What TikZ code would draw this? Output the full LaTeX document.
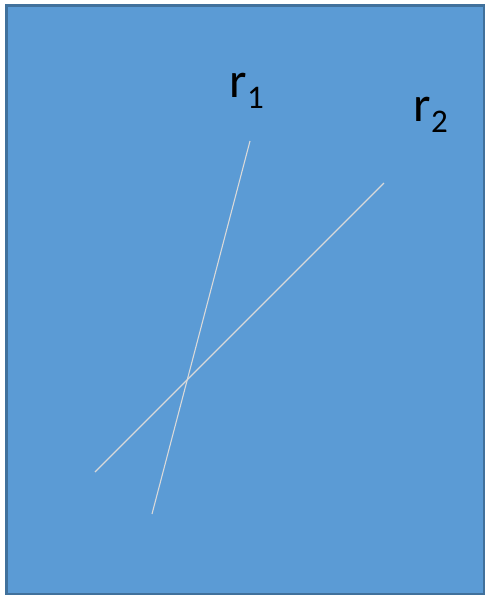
\documentclass[tikz,border=0pt]{standalone}
\usepackage{fontspec}
\setmainfont{Carlito}
\usepackage{xcolor}
\usetikzlibrary{positioning}
\definecolor{slideblue}{HTML}{5B9BD5}
\definecolor{slideedge}{HTML}{41719C}
\definecolor{raycol}{HTML}{D9D9D9}
\begin{document}
\begin{tikzpicture}[x=1pt, y=-1pt,
  lbl/.style={inner sep=0pt, anchor=base west, font=\fontsize{50}{50}\selectfont},
  ray/.style={draw=raycol, line width=1.1pt}]
\useasboundingbox (0,0) rectangle (485,595);
\draw[fill=slideblue, draw=slideedge, line width=3pt] (6.5,5.5) rectangle (484.5,594.5);
% labels
\node[lbl] (r1label) at (229.5,97) {r\raisebox{-11pt}{\fontsize{33}{33}\selectfont 1}};
\node[lbl] (r2label) at (413.5,121) {r\raisebox{-11pt}{\fontsize{33}{33}\selectfont 2}};
% end points of the two lines
\coordinate (r1top) at (250,141);
\coordinate (r1bot) at (152,514);
\coordinate (r2top) at (384,183);
\coordinate (r2bot) at (95,472);
\draw[ray] (r1top) -- (r1bot);
\draw[ray] (r2top) -- (r2bot);
\end{tikzpicture}
\end{document}
